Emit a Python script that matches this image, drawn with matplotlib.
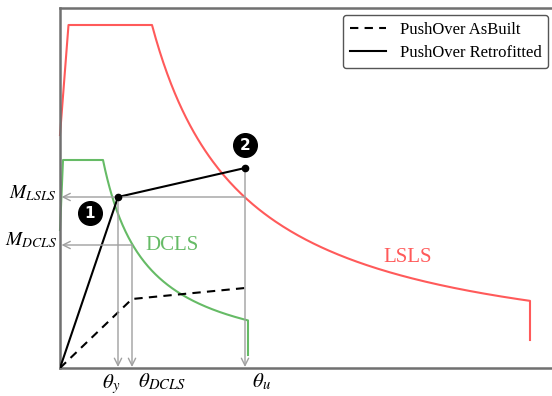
import numpy as np
import matplotlib
matplotlib.use("Agg")
import matplotlib.pyplot as plt

plt.rcParams['font.family'] = ['Liberation Serif', 'DejaVu Serif']
plt.rcParams['mathtext.fontset'] = 'stix'

# demand spectra (ramp start, plateau, corners, end, drop level)
lsls_y0, lsls_plateau = 233, 343
lsls_tb, lsls_tc, lsls_end, lsls_drop = 8.5, 92, 470, 28
dcls_y0, dcls_plateau = 138, 208
dcls_tb, dcls_tc, dcls_end, dcls_drop = 3, 43, 188, 13

# capacity curves (origin, yield, ultimate)
retro_x = [0, 58, 185]
retro_y = [0, 171, 200]
asbuilt_x = [0, 72, 185]
asbuilt_y = [0, 69, 80]

theta_y, theta_dcls, theta_u = 58, 72, 185
m_lsls, m_dcls = 171, 123

def spectrum(y0, plat, tb, tc, tend, ydrop):
    t = np.linspace(tc, tend, 200)
    x = np.concatenate([[0, tb, tc], t, [tend]])
    y = np.concatenate([[y0, plat, plat], plat * tc / t, [ydrop]])
    return x, y

fig = plt.figure(figsize=(5.52, 3.96), dpi=100)
ax = fig.add_axes([60/552, 28/396, 500/552, 360/396])
ax.set_xlim(0, 500)
ax.set_ylim(0, 360)

red = '#ff5a5a'
green = '#66bb66'
grey = '#a0a0a0'

x, y = spectrum(lsls_y0, lsls_plateau, lsls_tb, lsls_tc, lsls_end, lsls_drop)
ax.plot(x, y, color=red, lw=1.5, clip_on=False, zorder=2)
x, y = spectrum(dcls_y0, dcls_plateau, dcls_tb, dcls_tc, dcls_end, dcls_drop)
ax.plot(x, y, color=green, lw=1.5, clip_on=False, zorder=2)

ax.plot(asbuilt_x, asbuilt_y, color='black', lw=1.5, ls=(0, (4, 3)), label='PushOver AsBuilt', zorder=3)
ax.plot(retro_x, retro_y, color='black', lw=1.5, label='PushOver Retrofitted', zorder=3)
ax.plot(retro_x[1:], retro_y[1:], 'o', color='black', ms=4.5, zorder=4)

# projection arrows
arr = dict(arrowstyle='->', color=grey, lw=1, mutation_scale=13, shrinkA=0, shrinkB=0)
ax.annotate('', xy=(1.5, m_lsls), xytext=(theta_u, m_lsls), arrowprops=arr)
ax.annotate('', xy=(1.5, m_dcls), xytext=(theta_dcls, m_dcls), arrowprops=arr)
ax.annotate('', xy=(theta_y, 1), xytext=(theta_y, m_lsls), arrowprops=arr)
ax.annotate('', xy=(theta_dcls, 1), xytext=(theta_dcls, m_dcls), arrowprops=arr)
ax.annotate('', xy=(theta_u, 1), xytext=(theta_u, retro_y[2]), arrowprops=arr)

# numbered markers
for (cx, cy), num in [((30, 155), '1'), ((185, 223), '2')]:
    ax.plot(cx, cy, 'o', color='black', ms=17, zorder=5)
    ax.text(cx, cy, num, color='white', fontsize=11, fontweight='bold',
            family='DejaVu Sans', ha='center', va='center', zorder=6)

ax.text(85, 123, 'DCLS', color=green, fontsize=15, va='center')
ax.text(323, 110, 'LSLS', color=red, fontsize=15, va='center')

ax.text(-3, 175, r'$M_{LSLS}$', fontsize=14, ha='right', va='center')
ax.text(-3, 128, r'$M_{DCLS}$', fontsize=14, ha='right', va='center')
ax.text(42, -4, r'$\theta_y$', fontsize=15, ha='left', va='top')
ax.text(78, -4, r'$\theta_{DCLS}$', fontsize=15, ha='left', va='top')
ax.text(192, -4, r'$\theta_u$', fontsize=15, ha='left', va='top')

for s in ['left', 'top', 'bottom']:
    ax.spines[s].set_color('#707070')
    ax.spines[s].set_linewidth(1.8)
ax.spines['right'].set_visible(False)
ax.set_xticks([])
ax.set_yticks([])

leg = ax.legend(loc='upper right', bbox_to_anchor=(548/552, 1 - 15/396),
                bbox_transform=fig.transFigure, borderaxespad=0, fontsize=12,
                handlelength=2.2, labelspacing=0.45, framealpha=1, edgecolor='#555555')
leg.get_frame().set_linewidth(1)

fig.savefig('out.png', dpi=100)
